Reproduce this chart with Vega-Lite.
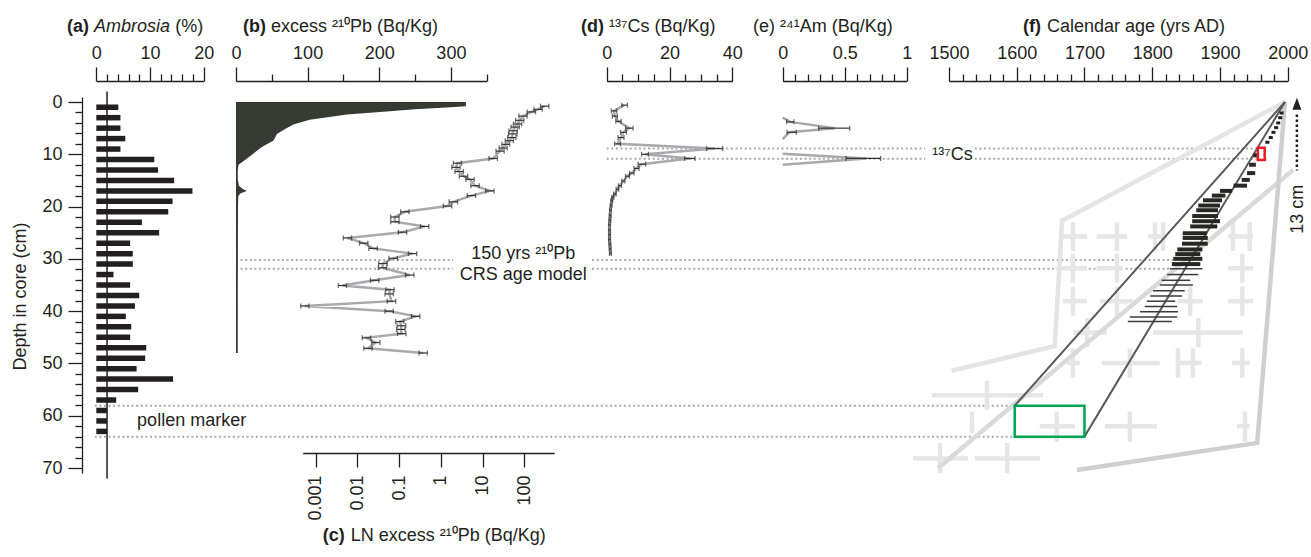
{
"$schema":"https://vega.github.io/schema/vega-lite/v6.json",
"width":1220,"height":376,
"autosize":{"type":"none"},
"padding":{"left":82,"top":97,"right":9,"bottom":84},
"background":"white",
"config":{"view":{"stroke":null},"font":"Liberation Sans",
 "axis":{"grid":false,"domainColor":"#231f20","domainWidth":1.3,"tickColor":"#231f20","tickWidth":1.3,"labelFont":"Liberation Sans","labelFontSize":18,"labelColor":"#231f20","titleFont":"Liberation Sans","titleFontSize":18,"titleFontWeight":"normal","titleColor":"#231f20","labelOverlap":false,"labelFlush":false,"labelBound":false},
 "text":{"font":"Liberation Sans","fontSize":18,"fill":"#231f20"}
},
"datasets":{
 "dots":[{"depth":58.1,"x0":239,"x1":1597},{"depth":64.0,"x0":239,"x1":1597},{"depth":30.2,"x0":973,"x1":1831},{"depth":31.9,"x0":973,"x1":1826},{"depth":8.9,"x0":1538,"x1":1956},{"depth":10.85,"x0":1538,"x1":1969}],
 "lines3032":[{"depth":30.2},{"depth":31.9}],
 "csLines":[{"depth":8.9},{"depth":10.85}],
 "amb":[{"depth":1,"pct":4.1},{"depth":3,"pct":4.5},{"depth":5,"pct":4.5},{"depth":7,"pct":5.4},{"depth":9,"pct":4.5},{"depth":11,"pct":10.8},{"depth":13,"pct":11.5},{"depth":15,"pct":14.5},{"depth":17,"pct":17.9},{"depth":19,"pct":14.2},{"depth":21,"pct":13.4},{"depth":23,"pct":8.5},{"depth":25,"pct":11.7},{"depth":27,"pct":6.3},{"depth":29,"pct":6.8},{"depth":31,"pct":6.8},{"depth":33,"pct":3.2},{"depth":35,"pct":6.3},{"depth":37,"pct":8.0},{"depth":39,"pct":7.2},{"depth":41,"pct":5.5},{"depth":43,"pct":6.5},{"depth":45,"pct":6.3},{"depth":47,"pct":9.3},{"depth":49,"pct":9.1},{"depth":51,"pct":7.5},{"depth":53,"pct":14.3},{"depth":55,"pct":7.8},{"depth":57,"pct":3.7},{"depth":59,"pct":2.0},{"depth":61,"pct":2.0},{"depth":63,"pct":2.0}],
 "pbArea":[{"depth":0,"pb":321},{"depth":0.8,"pb":321},{"depth":1.0,"pb":300},{"depth":1.4,"pb":250},{"depth":1.8,"pb":210},{"depth":2.4,"pb":155},{"depth":3.4,"pb":103},{"depth":4.3,"pb":80},{"depth":5.2,"pb":68},{"depth":6.1,"pb":57},{"depth":7.0,"pb":54},{"depth":7.4,"pb":52},{"depth":8.6,"pb":36},{"depth":9.9,"pb":24},{"depth":11.1,"pb":12.6},{"depth":12.0,"pb":3.5},{"depth":13.0,"pb":2.5},{"depth":14.8,"pb":2.5},{"depth":16.0,"pb":4},{"depth":16.6,"pb":9},{"depth":17.0,"pb":15},{"depth":17.5,"pb":6},{"depth":18.0,"pb":3.2},{"depth":20,"pb":2.8},{"depth":30,"pb":2.6},{"depth":48,"pb":2.4}],
 "pb":[{"depth":0.8,"v":309,"lo":245,"hi":389},{"depth":1.4,"v":214,"lo":170,"hi":270},{"depth":1.9,"v":148,"lo":117,"hi":186},{"depth":2.7,"v":93,"lo":74,"hi":117},{"depth":3.5,"v":78,"lo":62,"hi":98},{"depth":4.2,"v":69,"lo":55,"hi":87},{"depth":4.8,"v":60,"lo":48,"hi":76},{"depth":5.5,"v":54,"lo":43,"hi":68},{"depth":6.1,"v":53,"lo":42,"hi":67},{"depth":6.8,"v":50,"lo":40,"hi":63},{"depth":7.4,"v":44,"lo":35,"hi":55},{"depth":8.1,"v":36,"lo":29,"hi":45},{"depth":8.8,"v":31,"lo":25,"hi":39},{"depth":9.4,"v":26,"lo":21,"hi":33},{"depth":10.8,"v":18,"lo":14.3,"hi":22.7},{"depth":11.7,"v":2.5,"lo":2.0,"hi":3.15},{"depth":12.5,"v":2.3,"lo":1.83,"hi":2.9},{"depth":13.3,"v":2.75,"lo":2.18,"hi":3.47},{"depth":14.2,"v":3.5,"lo":2.78,"hi":4.41},{"depth":14.8,"v":5.0,"lo":3.97,"hi":6.3},{"depth":16.0,"v":6.6,"lo":5.24,"hi":8.32},{"depth":17.0,"v":15,"lo":11.9,"hi":18.9},{"depth":17.9,"v":5.4,"lo":4.29,"hi":6.8},{"depth":19.1,"v":2.0,"lo":1.59,"hi":2.52},{"depth":19.9,"v":1.45,"lo":1.15,"hi":1.83},{"depth":21.0,"v":0.137,"lo":0.109,"hi":0.173},{"depth":22.0,"v":0.079,"lo":0.063,"hi":0.1},{"depth":22.9,"v":0.079,"lo":0.063,"hi":0.1},{"depth":23.8,"v":0.41,"lo":0.325,"hi":0.517},{"depth":24.9,"v":0.121,"lo":0.096,"hi":0.152},{"depth":26.0,"v":0.0058,"lo":0.0046,"hi":0.0073},{"depth":27.0,"v":0.0142,"lo":0.0113,"hi":0.0179},{"depth":28.0,"v":0.0238,"lo":0.0189,"hi":0.030},{"depth":29.0,"v":0.21,"lo":0.167,"hi":0.265},{"depth":29.9,"v":0.072,"lo":0.057,"hi":0.091},{"depth":30.9,"v":0.041,"lo":0.0325,"hi":0.052},{"depth":31.7,"v":0.040,"lo":0.0317,"hi":0.050},{"depth":33.1,"v":0.18,"lo":0.143,"hi":0.227},{"depth":34.1,"v":0.026,"lo":0.0206,"hi":0.0328},{"depth":35.1,"v":0.0044,"lo":0.0035,"hi":0.0055},{"depth":35.9,"v":0.060,"lo":0.048,"hi":0.076},{"depth":36.7,"v":0.058,"lo":0.046,"hi":0.073},{"depth":38.1,"v":0.066,"lo":0.052,"hi":0.083},{"depth":39.0,"v":0.00055,"lo":0.00044,"hi":0.00069},{"depth":40.0,"v":0.058,"lo":0.046,"hi":0.073},{"depth":41.0,"v":0.25,"lo":0.198,"hi":0.315},{"depth":42.0,"v":0.104,"lo":0.083,"hi":0.131},{"depth":42.8,"v":0.114,"lo":0.090,"hi":0.144},{"depth":43.5,"v":0.110,"lo":0.087,"hi":0.139},{"depth":44.3,"v":0.116,"lo":0.092,"hi":0.146},{"depth":45.1,"v":0.0165,"lo":0.0131,"hi":0.0208},{"depth":46.0,"v":0.0276,"lo":0.0219,"hi":0.0348},{"depth":47.1,"v":0.018,"lo":0.0143,"hi":0.0227},{"depth":48.0,"v":0.377,"lo":0.299,"hi":0.475}],
 "cs":[{"depth":0.6,"v":5.5,"lo":4.8,"hi":6.6},{"depth":1.7,"v":2.3,"lo":1.5,"hi":3.2},{"depth":2.7,"v":2.6,"lo":1.8,"hi":3.4},{"depth":3.7,"v":3.7,"lo":2.9,"hi":4.6},{"depth":5.0,"v":7.2,"lo":6.0,"hi":8.4},{"depth":5.8,"v":5.3,"lo":4.4,"hi":6.3},{"depth":6.8,"v":4.5,"lo":3.6,"hi":5.5},{"depth":8.0,"v":3.4,"lo":2.5,"hi":4.4},{"depth":8.9,"v":34.5,"lo":31.8,"hi":36.9},{"depth":10.0,"v":12.2,"lo":11.1,"hi":13.3},{"depth":10.8,"v":26.5,"lo":24.8,"hi":28.1},{"depth":11.9,"v":11.1,"lo":10.0,"hi":12.4},{"depth":12.7,"v":9.5,"lo":8.7,"hi":10.3},{"depth":13.6,"v":8.0,"lo":7.3,"hi":8.7},{"depth":14.2,"v":6.6,"lo":6.0,"hi":7.2},{"depth":15.1,"v":5.3,"lo":4.8,"hi":5.8},{"depth":16.0,"v":4.2,"lo":3.7,"hi":4.7},{"depth":16.7,"v":3.4,"lo":3.0,"hi":3.8},{"depth":17.6,"v":2.6,"lo":2.2,"hi":3.0},{"depth":18.2,"v":1.9,"lo":1.6,"hi":2.3},{"depth":18.9,"v":1.6,"lo":1.3,"hi":1.9},{"depth":19.8,"v":1.4,"lo":1.1,"hi":1.7},{"depth":20.7,"v":1.2,"lo":0.9,"hi":1.5},{"depth":21.7,"v":1.1,"lo":0.8,"hi":1.4},{"depth":22.6,"v":1.0,"lo":0.7,"hi":1.3},{"depth":23.5,"v":0.9,"lo":0.6,"hi":1.2},{"depth":24.5,"v":0.9,"lo":0.6,"hi":1.2},{"depth":25.4,"v":0.9,"lo":0.6,"hi":1.2},{"depth":26.3,"v":0.9,"lo":0.6,"hi":1.2},{"depth":27.2,"v":1.0,"lo":0.7,"hi":1.3},{"depth":28.1,"v":1.1,"lo":0.8,"hi":1.4},{"depth":29.0,"v":1.2,"lo":0.9,"hi":1.5}],
 "am":[{"depth":3.0,"v":0,"seg":1},{"depth":3.8,"v":0.06,"lo":0.032,"hi":0.09,"seg":1},{"depth":5.0,"v":0.42,"lo":0.29,"hi":0.54,"seg":1},{"depth":5.8,"v":0.053,"lo":0.035,"hi":0.11,"seg":1},{"depth":7.1,"v":0,"seg":1},{"depth":9.9,"v":0,"seg":2},{"depth":10.8,"v":0.675,"lo":0.51,"hi":0.79,"seg":2},{"depth":12.0,"v":0,"seg":2}],
 "cross":[
  {"c":1683,"lo":1668,"hi":1704,"depth":25.7,"dlo":23.0,"dhi":28.5},{"c":1748,"lo":1718,"hi":1763,"depth":25.7,"dlo":23.0,"dhi":28.5},{"c":1804,"lo":1794,"hi":1812,"depth":25.7,"dlo":23.0,"dhi":28.5},{"c":1816,"lo":1808,"hi":1822,"depth":25.7,"dlo":23.0,"dhi":28.5},{"c":1919,"lo":1912,"hi":1932,"depth":25.7,"dlo":23.0,"dhi":28.5},{"c":1944,"lo":1930,"hi":1949,"depth":25.7,"dlo":23.0,"dhi":28.5},
  {"c":1683,"lo":1659,"hi":1704,"depth":31.8,"dlo":29.0,"dhi":34.6},{"c":1748,"lo":1718,"hi":1757,"depth":31.8,"dlo":29.0,"dhi":34.6},{"c":1933,"lo":1912,"hi":1949,"depth":31.8,"dlo":29.0,"dhi":34.6},
  {"c":1683,"lo":1668,"hi":1704,"depth":38.1,"dlo":35.3,"dhi":40.9},{"c":1748,"lo":1723,"hi":1772,"depth":38.1,"dlo":35.3,"dhi":40.9},{"c":1856,"lo":1837,"hi":1875,"depth":38.1,"dlo":35.3,"dhi":40.9},{"c":1933,"lo":1912,"hi":1949,"depth":38.1,"dlo":35.3,"dhi":40.9},
  {"c":1704,"lo":1683,"hi":1733,"depth":44.1,"dlo":41.3,"dhi":46.9},{"c":1868,"lo":1801,"hi":1934,"depth":44.1,"dlo":41.3,"dhi":46.9},
  {"c":1683,"lo":1674,"hi":1693,"depth":49.9,"dlo":47.1,"dhi":52.7},{"c":1767,"lo":1726,"hi":1811,"depth":49.9,"dlo":47.1,"dhi":52.7},{"c":1838,"lo":1836,"hi":1850,"depth":49.9,"dlo":47.1,"dhi":52.7},{"c":1860,"lo":1850,"hi":1873,"depth":49.9,"dlo":47.1,"dhi":52.7},{"c":1933,"lo":1918,"hi":1944,"depth":49.9,"dlo":47.1,"dhi":52.7},
  {"c":1556,"lo":1475,"hi":1639,"depth":56.1,"dlo":53.3,"dhi":58.9},
  {"c":1659,"lo":1634,"hi":1686,"depth":62.0,"dlo":59.2,"dhi":65.0},{"c":1767,"lo":1730,"hi":1807,"depth":62.0,"dlo":59.2,"dhi":65.0},{"c":1937,"lo":1925,"hi":1944,"depth":62.0,"dlo":59.2,"dhi":65.0},{"c":1534,"lo":1531,"hi":1537,"depth":62.0,"dlo":59.2,"dhi":63.3},
  {"c":1487,"lo":1447,"hi":1528,"depth":68.2,"dlo":65.2,"dhi":71.0},{"c":1586,"lo":1538,"hi":1634,"depth":68.2,"dlo":65.2,"dhi":71.0}],
 "env":[{"id":"p1","k":0,"year":1996,"depth":0},{"id":"p1","k":1,"year":1667,"depth":22.7},{"id":"p1","k":2,"year":1656,"depth":46.7},{"id":"p1","k":3,"year":1504,"depth":51.4},{"id":"p2","k":0,"year":2008,"depth":13.0},{"id":"p2","k":1,"year":1484,"depth":70.0},{"id":"p3","k":0,"year":1996,"depth":0},{"id":"p3","k":1,"year":1955,"depth":65.2},{"id":"p3","k":2,"year":1689,"depth":70.4}],
 "model":[{"id":"m1","k":0,"year":1996,"depth":0},{"id":"m1","k":1,"year":1597,"depth":58.1},{"id":"m2","k":0,"year":1996,"depth":0},{"id":"m2","k":1,"year":1700,"depth":64.0}],
 "boxes":[{"kind":"pollen","x0":1597,"x1":1700,"depth":58.1,"d1":64.0},{"kind":"cs","x0":1956,"x1":1966,"depth":8.75,"d1":11.1}],
 "crs":[{"depth":2.1,"lo":1988,"hi":1994,"kind":"dot"},{"depth":3.0,"lo":1986,"hi":1992,"kind":"dot"},{"depth":4.0,"lo":1983,"hi":1989,"kind":"dot"},{"depth":4.9,"lo":1980,"hi":1986,"kind":"dot"},{"depth":5.8,"lo":1976,"hi":1982,"kind":"dot"},{"depth":6.8,"lo":1972,"hi":1978,"kind":"dot"},{"depth":7.7,"lo":1967,"hi":1973,"kind":"dot"},
  {"depth":10.2,"lo":1949,"hi":1962,"kind":"dark"},{"depth":12.0,"lo":1943,"hi":1953,"kind":"dark"},{"depth":13.6,"lo":1940,"hi":1952,"kind":"dark"},{"depth":14.9,"lo":1932,"hi":1944,"kind":"dark"},{"depth":16.0,"lo":1920,"hi":1940,"kind":"dark"},{"depth":17.0,"lo":1900,"hi":1918,"kind":"dark"},{"depth":17.9,"lo":1888,"hi":1908,"kind":"dark"},{"depth":18.8,"lo":1875,"hi":1903,"kind":"dark"},{"depth":19.8,"lo":1868,"hi":1900,"kind":"dark"},{"depth":20.7,"lo":1865,"hi":1897,"kind":"dark"},{"depth":21.8,"lo":1859,"hi":1897,"kind":"dark"},{"depth":22.8,"lo":1859,"hi":1900,"kind":"dark"},{"depth":23.8,"lo":1856,"hi":1896,"kind":"dark"},{"depth":25.1,"lo":1845,"hi":1881,"kind":"dark"},{"depth":26.0,"lo":1845,"hi":1882,"kind":"dark"},{"depth":27.1,"lo":1844,"hi":1882,"kind":"dark"},{"depth":28.2,"lo":1837,"hi":1874,"kind":"dark"},{"depth":29.1,"lo":1834,"hi":1871,"kind":"dark"},{"depth":30.0,"lo":1831,"hi":1874,"kind":"dark"},{"depth":31.0,"lo":1829,"hi":1871,"kind":"dark"},
  {"depth":31.9,"lo":1826,"hi":1874,"kind":"thin"},{"depth":33.0,"lo":1822,"hi":1868,"kind":"thin"},{"depth":34.1,"lo":1814,"hi":1856,"kind":"thin"},{"depth":35.0,"lo":1811,"hi":1860,"kind":"thin"},{"depth":36.1,"lo":1801,"hi":1848,"kind":"thin"},{"depth":37.1,"lo":1797,"hi":1844,"kind":"thin"},{"depth":38.1,"lo":1792,"hi":1834,"kind":"thin"},{"depth":39.1,"lo":1789,"hi":1837,"kind":"thin"},{"depth":40.1,"lo":1782,"hi":1838,"kind":"thin"},{"depth":41.1,"lo":1767,"hi":1837,"kind":"thin"},{"depth":42.0,"lo":1764,"hi":1829,"kind":"thin"}]
},
"layer":[
 {"data":{"name":"dots"},"mark":{"type":"rule","stroke":"#a7a9ac","strokeWidth":2,"strokeDash":[2,2.6]},
  "encoding":{"x":{"field":"x0","type":"quantitative","scale":{"domain":[1500,2000],"range":[867,1205.7],"nice":false,"zero":false},"axis":null},"x2":{"field":"x1"},
   "y":{"field":"depth","type":"quantitative","scale":{"domain":[0,70],"nice":false,"zero":false,"reverse":true},
    "axis":{"orient":"left","values":[2,4,6,8,12,14,16,18,22,24,26,28,32,34,36,38,42,44,46,48,52,54,56,58,62,64,66,68],"tickSize":7,"labels":false,"domain":false,"title":null}}}},
 {"data":{"name":"lines3032"},"mark":{"type":"rule","stroke":"#a7a9ac","strokeWidth":2,"strokeDash":[2,2.6]},
  "encoding":{"x":{"datum":0,"type":"quantitative","scale":{"domain":[0,350],"range":[154,404.7],"nice":false,"zero":false},"axis":{"orient":"top","offset":16,"values":[50,150,250,350],"tickSize":7,"labels":false,"domain":false,"title":null}},"x2":{"datum":303},
   "y":{"field":"depth","type":"quantitative","scale":{"domain":[0,70],"nice":false,"zero":false,"reverse":true},"axis":null}}},
 {"data":{"name":"csLines"},"mark":{"type":"rule","stroke":"#a7a9ac","strokeWidth":2,"strokeDash":[2,2.6]},
  "encoding":{"x":{"datum":0,"type":"quantitative","scale":{"domain":[0,40],"range":[524.7,650.3],"nice":false,"zero":false},"axis":{"orient":"top","offset":16,"values":[5,10,15,25,30,35],"tickSize":7,"labels":false,"domain":false,"title":null}},"x2":{"datum":101.4},
   "y":{"field":"depth","type":"quantitative","scale":{"domain":[0,70],"nice":false,"zero":false,"reverse":true},"axis":null}}},
 {"data":{"name":"amb"},"mark":{"type":"bar","orient":"horizontal","height":5.5,"color":"#231f20"},
  "encoding":{"x":{"field":"pct","type":"quantitative","scale":{"domain":[0,20],"range":[14.3,121.7],"nice":false,"zero":false},"axis":{"orient":"top","offset":16,"values":[0,10,20],"tickSize":14,"labelPadding":5,"title":null}},
   "y":{"field":"depth","type":"quantitative","scale":{"domain":[0,70],"nice":false,"zero":false,"reverse":true},
    "axis":{"orient":"left","values":[0,10,20,30,40,50,60,70],"tickSize":14,"labelPadding":6,"title":"Depth in core (cm)","titlePadding":12,"titleY":199}}}},
 {"data":{"values":[{}]},"mark":{"type":"rule","color":"#231f20","strokeWidth":1.5},
  "encoding":{"x":{"datum":2,"type":"quantitative","scale":{"domain":[0,20],"range":[14.3,121.7],"nice":false,"zero":false},"axis":{"orient":"top","offset":16,"values":[2,4,6,8,12,14,16,18],"tickSize":7,"labels":false,"domain":false,"title":null}},
   "y":{"datum":-2,"type":"quantitative","scale":{"domain":[0,70],"nice":false,"zero":false,"reverse":true},"axis":null},"y2":{"datum":72}}},
 {"data":{"name":"pbArea"},"mark":{"type":"area","orient":"horizontal","color":"#353a33"},
  "encoding":{"x":{"field":"pb","type":"quantitative","scale":{"domain":[0,350],"range":[154,404.7],"nice":false,"zero":false},"axis":{"orient":"top","offset":16,"values":[0,100,200,300],"tickSize":14,"labelPadding":5,"title":null}},
   "y":{"field":"depth","type":"quantitative","scale":{"domain":[0,70],"nice":false,"zero":false,"reverse":true},"axis":null}}},
 {"data":{"name":"pb"},"mark":{"type":"line","color":"#a7a9ac","strokeWidth":2.5},
  "encoding":{"x":{"field":"v","type":"quantitative","scale":{"type":"log","domain":[0.00049,516],"range":[220.7,472],"nice":false},"axis":{"orient":"bottom","offset":-20,"values":[0.001,0.01,0.1,1,10,100],"format":"~g","labelAngle":-90,"tickSize":14,"labelPadding":8,"title":null}},
   "y":{"field":"depth","type":"quantitative","scale":{"domain":[0,70],"nice":false,"zero":false,"reverse":true},"axis":null},"order":{"field":"depth"}}},
 {"data":{"name":"pb"},"mark":{"type":"rule","color":"#333333","strokeWidth":1.2},
  "encoding":{"x":{"field":"lo","type":"quantitative","scale":{"type":"log","domain":[0.00049,516],"range":[220.7,472],"nice":false},"axis":null},"x2":{"field":"hi"},
   "y":{"field":"depth","type":"quantitative","scale":{"domain":[0,70],"nice":false,"zero":false,"reverse":true},"axis":null}}},
 {"data":{"name":"pb"},"mark":{"type":"tick","orient":"vertical","color":"#333333","size":5,"thickness":1.3},
  "encoding":{"x":{"field":"lo","type":"quantitative","scale":{"type":"log","domain":[0.00049,516],"range":[220.7,472],"nice":false},"axis":null},
   "y":{"field":"depth","type":"quantitative","scale":{"domain":[0,70],"nice":false,"zero":false,"reverse":true},"axis":null}}},
 {"data":{"name":"pb"},"mark":{"type":"tick","orient":"vertical","color":"#333333","size":5,"thickness":1.3},
  "encoding":{"x":{"field":"hi","type":"quantitative","scale":{"type":"log","domain":[0.00049,516],"range":[220.7,472],"nice":false},"axis":null},
   "y":{"field":"depth","type":"quantitative","scale":{"domain":[0,70],"nice":false,"zero":false,"reverse":true},"axis":null}}},
 {"data":{"name":"cs"},"mark":{"type":"line","color":"#a7a9ac","strokeWidth":2.5},
  "encoding":{"x":{"field":"v","type":"quantitative","scale":{"domain":[0,40],"range":[524.7,650.3],"nice":false,"zero":false},"axis":{"orient":"top","offset":16,"values":[0,20,40],"tickSize":14,"labelPadding":5,"title":null}},
   "y":{"field":"depth","type":"quantitative","scale":{"domain":[0,70],"nice":false,"zero":false,"reverse":true},"axis":null},"order":{"field":"depth"}}},
 {"data":{"name":"cs"},"mark":{"type":"rule","color":"#333333","strokeWidth":1.2},
  "encoding":{"x":{"field":"lo","type":"quantitative","scale":{"domain":[0,40],"range":[524.7,650.3],"nice":false,"zero":false},"axis":null},"x2":{"field":"hi"},
   "y":{"field":"depth","type":"quantitative","scale":{"domain":[0,70],"nice":false,"zero":false,"reverse":true},"axis":null}}},
 {"data":{"name":"cs"},"mark":{"type":"tick","orient":"vertical","color":"#333333","size":5,"thickness":1.3},
  "encoding":{"x":{"field":"lo","type":"quantitative","scale":{"domain":[0,40],"range":[524.7,650.3],"nice":false,"zero":false},"axis":null},
   "y":{"field":"depth","type":"quantitative","scale":{"domain":[0,70],"nice":false,"zero":false,"reverse":true},"axis":null}}},
 {"data":{"name":"cs"},"mark":{"type":"tick","orient":"vertical","color":"#333333","size":5,"thickness":1.3},
  "encoding":{"x":{"field":"hi","type":"quantitative","scale":{"domain":[0,40],"range":[524.7,650.3],"nice":false,"zero":false},"axis":null},
   "y":{"field":"depth","type":"quantitative","scale":{"domain":[0,70],"nice":false,"zero":false,"reverse":true},"axis":null}}},
 {"data":{"name":"am"},"mark":{"type":"line","color":"#a7a9ac","strokeWidth":2.5},
  "encoding":{"x":{"field":"v","type":"quantitative","scale":{"domain":[0,1],"range":[700.7,824.7],"nice":false,"zero":false},"axis":{"orient":"top","offset":16,"values":[0,0.5,1],"format":"~g","tickSize":14,"labelPadding":5,"title":null}},
   "y":{"field":"depth","type":"quantitative","scale":{"domain":[0,70],"nice":false,"zero":false,"reverse":true},"axis":null},"detail":{"field":"seg"},"order":{"field":"depth"}}},
 {"data":{"name":"am"},"mark":{"type":"rule","color":"#333333","strokeWidth":1.2},
  "encoding":{"x":{"field":"lo","type":"quantitative","scale":{"domain":[0,1],"range":[700.7,824.7],"nice":false,"zero":false},"axis":{"orient":"top","offset":16,"values":[0.1,0.2,0.3,0.4,0.6,0.7,0.8,0.9],"tickSize":7,"labels":false,"domain":false,"title":null}},"x2":{"field":"hi"},
   "y":{"field":"depth","type":"quantitative","scale":{"domain":[0,70],"nice":false,"zero":false,"reverse":true},"axis":null}}},
 {"data":{"name":"am"},"mark":{"type":"tick","orient":"vertical","color":"#333333","size":5,"thickness":1.3},
  "encoding":{"x":{"field":"lo","type":"quantitative","scale":{"domain":[0,1],"range":[700.7,824.7],"nice":false,"zero":false},"axis":null},
   "y":{"field":"depth","type":"quantitative","scale":{"domain":[0,70],"nice":false,"zero":false,"reverse":true},"axis":null}}},
 {"data":{"name":"am"},"mark":{"type":"tick","orient":"vertical","color":"#333333","size":5,"thickness":1.3},
  "encoding":{"x":{"field":"hi","type":"quantitative","scale":{"domain":[0,1],"range":[700.7,824.7],"nice":false,"zero":false},"axis":null},
   "y":{"field":"depth","type":"quantitative","scale":{"domain":[0,70],"nice":false,"zero":false,"reverse":true},"axis":null}}},
 {"data":{"name":"cross"},"mark":{"type":"rule","color":"#e6e6e6","strokeWidth":4.5},
  "encoding":{"x":{"field":"lo","type":"quantitative","scale":{"domain":[1500,2000],"range":[867,1205.7],"nice":false,"zero":false},"axis":{"orient":"top","offset":16,"values":[1500,1600,1700,1800,1900,2000],"format":"d","tickSize":14,"labelPadding":5,"title":null}},"x2":{"field":"hi"},
   "y":{"field":"depth","type":"quantitative","scale":{"domain":[0,70],"nice":false,"zero":false,"reverse":true},"axis":null}}},
 {"data":{"name":"cross"},"mark":{"type":"rule","color":"#e6e6e6","strokeWidth":4.5},
  "encoding":{"x":{"field":"c","type":"quantitative","scale":{"domain":[1500,2000],"range":[867,1205.7],"nice":false,"zero":false},"axis":{"orient":"top","offset":16,"values":[1520,1540,1560,1580,1620,1640,1660,1680,1720,1740,1760,1780,1820,1840,1860,1880,1920,1940,1960,1980],"tickSize":7,"labels":false,"domain":false,"title":null}},
   "y":{"field":"dlo","type":"quantitative","scale":{"domain":[0,70],"nice":false,"zero":false,"reverse":true},"axis":null},"y2":{"field":"dhi"}}},
 {"data":{"name":"env"},"mark":{"type":"line","strokeWidth":4.5},
  "encoding":{"x":{"field":"year","type":"quantitative","scale":{"domain":[1500,2000],"range":[867,1205.7],"nice":false,"zero":false},"axis":null},
   "y":{"field":"depth","type":"quantitative","scale":{"domain":[0,70],"nice":false,"zero":false,"reverse":true},"axis":null},
   "color":{"field":"id","type":"nominal","scale":{"domain":["p1","p2","p3"],"range":["#e4e4e4","#d9d9d9","#cfcfd1"]},"legend":null},"order":{"field":"k"}}},
 {"data":{"name":"model"},"mark":{"type":"line","strokeWidth":2,"color":"#5a5a5a"},
  "encoding":{"x":{"field":"year","type":"quantitative","scale":{"domain":[1500,2000],"range":[867,1205.7],"nice":false,"zero":false},"axis":null},
   "y":{"field":"depth","type":"quantitative","scale":{"domain":[0,70],"nice":false,"zero":false,"reverse":true},"axis":null},"detail":{"field":"id"},"order":{"field":"k"}}},
 {"data":{"name":"crs"},"transform":[{"filter":"datum.kind === 'thin'"}],"mark":{"type":"rule","color":"#3a3a3a","strokeWidth":1.5},
  "encoding":{"x":{"field":"lo","type":"quantitative","scale":{"domain":[1500,2000],"range":[867,1205.7],"nice":false,"zero":false},"axis":null},"x2":{"field":"hi"},
   "y":{"field":"depth","type":"quantitative","scale":{"domain":[0,70],"nice":false,"zero":false,"reverse":true},"axis":null}}},
 {"data":{"name":"crs"},"transform":[{"filter":"datum.kind === 'dark'"}],"mark":{"type":"rule","color":"#262824","strokeWidth":4},
  "encoding":{"x":{"field":"lo","type":"quantitative","scale":{"domain":[1500,2000],"range":[867,1205.7],"nice":false,"zero":false},"axis":null},"x2":{"field":"hi"},
   "y":{"field":"depth","type":"quantitative","scale":{"domain":[0,70],"nice":false,"zero":false,"reverse":true},"axis":null}}},
 {"data":{"name":"crs"},"transform":[{"filter":"datum.kind === 'dot'"}],"mark":{"type":"rule","color":"#231f20","strokeWidth":3},
  "encoding":{"x":{"field":"lo","type":"quantitative","scale":{"domain":[1500,2000],"range":[867,1205.7],"nice":false,"zero":false},"axis":null},"x2":{"field":"hi"},
   "y":{"field":"depth","type":"quantitative","scale":{"domain":[0,70],"nice":false,"zero":false,"reverse":true},"axis":null}}},
 {"data":{"name":"boxes"},"mark":{"type":"rect","strokeWidth":2.5},
  "encoding":{"x":{"field":"x0","type":"quantitative","scale":{"domain":[1500,2000],"range":[867,1205.7],"nice":false,"zero":false},"axis":null},"x2":{"field":"x1"},
   "y":{"field":"depth","type":"quantitative","scale":{"domain":[0,70],"nice":false,"zero":false,"reverse":true},"axis":null},"y2":{"field":"d1"},
   "stroke":{"field":"kind","type":"nominal","scale":{"domain":["pollen","cs"],"range":["#00a651","#ed1c24"]},"legend":null},
   "fillOpacity":{"field":"kind","type":"nominal","scale":{"domain":["pollen","cs"],"range":[0,1]},"legend":null},
   "fill":{"value":"white"}}},
 {"data":{"values":[{}]},"mark":{"type":"rule","color":"#231f20","strokeWidth":2.5,"strokeDash":[2.5,2.5]},
  "encoding":{"x":{"datum":2013.6,"type":"quantitative","scale":{"domain":[1500,2000],"range":[867,1205.7],"nice":false,"zero":false},"axis":null},
   "y":{"datum":2.4,"type":"quantitative","scale":{"domain":[0,70],"nice":false,"zero":false,"reverse":true},"axis":null},"y2":{"datum":13.1}}},
 {"data":{"values":[{}]},"mark":{"type":"point","filled":true,"color":"#231f20","opacity":1,"size":144,"shape":"M0,-1L0.75,1L-0.75,1Z"},
  "encoding":{"x":{"datum":2013.6,"type":"quantitative","scale":{"domain":[1500,2000],"range":[867,1205.7],"nice":false,"zero":false},"axis":null},
   "y":{"datum":0.35,"type":"quantitative","scale":{"domain":[0,70],"nice":false,"zero":false,"reverse":true},"axis":null}}},
 {"data":{"values":[{}]},"mark":{"type":"text","angle":270,"align":"center","baseline":"middle","fontSize":18},
  "encoding":{"x":{"datum":2015.2,"type":"quantitative","scale":{"domain":[1500,2000],"range":[867,1205.7],"nice":false,"zero":false},"axis":null},
   "y":{"datum":20.5,"type":"quantitative","scale":{"domain":[0,70],"nice":false,"zero":false,"reverse":true},"axis":null},"text":{"value":"13 cm"}}},
 {"data":{"values":[{}]},"mark":{"type":"text","align":"right","baseline":"middle","fontSize":18},
  "encoding":{"x":{"datum":1535,"type":"quantitative","scale":{"domain":[1500,2000],"range":[867,1205.7],"nice":false,"zero":false},"axis":null},
   "y":{"datum":10.2,"type":"quantitative","scale":{"domain":[0,70],"nice":false,"zero":false,"reverse":true},"axis":null},"text":{"value":"¹³⁷Cs"}}},
 {"data":{"values":[{}]},"mark":{"type":"text","align":"left","baseline":"middle","fontSize":18},
  "encoding":{"x":{"datum":7.6,"type":"quantitative","scale":{"domain":[0,20],"range":[14.3,121.7],"nice":false,"zero":false},"axis":null},
   "y":{"datum":61.1,"type":"quantitative","scale":{"domain":[0,70],"nice":false,"zero":false,"reverse":true},"axis":null},"text":{"value":"pollen marker"}}},
 {"data":{"values":[{"t":"150 yrs ²¹⁰Pb","depth":29.05},{"t":"CRS age model","depth":33.0}]},"mark":{"type":"text","align":"center","baseline":"middle","fontSize":18},
  "encoding":{"x":{"datum":95,"type":"quantitative","scale":{"type":"log","domain":[0.00049,516],"range":[220.7,472],"nice":false},"axis":null},
   "y":{"field":"depth","type":"quantitative","scale":{"domain":[0,70],"nice":false,"zero":false,"reverse":true},"axis":null},"text":{"field":"t"}}},
 {"data":{"values":[{}]},"mark":{"type":"text","align":"left","baseline":"alphabetic","fontSize":18,"fontWeight":"bold"},
  "encoding":{"x":{"datum":-5.46,"type":"quantitative","scale":{"domain":[0,20],"range":[14.3,121.7],"nice":false,"zero":false},"axis":null},
   "y":{"datum":-13.4,"type":"quantitative","scale":{"domain":[0,70],"nice":false,"zero":false,"reverse":true},"axis":null},"text":{"value":"(a)"}}},
 {"data":{"values":[{}]},"mark":{"type":"text","align":"left","baseline":"alphabetic","fontSize":18,"fontStyle":"italic"},
  "encoding":{"x":{"datum":-0.43,"type":"quantitative","scale":{"domain":[0,20],"range":[14.3,121.7],"nice":false,"zero":false},"axis":null},
   "y":{"datum":-13.4,"type":"quantitative","scale":{"domain":[0,70],"nice":false,"zero":false,"reverse":true},"axis":null},"text":{"value":"Ambrosia"}}},
 {"data":{"values":[{}]},"mark":{"type":"text","align":"left","baseline":"alphabetic","fontSize":18},
  "encoding":{"x":{"datum":14.7,"type":"quantitative","scale":{"domain":[0,20],"range":[14.3,121.7],"nice":false,"zero":false},"axis":null},
   "y":{"datum":-13.4,"type":"quantitative","scale":{"domain":[0,70],"nice":false,"zero":false,"reverse":true},"axis":null},"text":{"value":"(%)"}}},
 {"data":{"values":[{}]},"mark":{"type":"text","align":"left","baseline":"alphabetic","fontSize":18,"fontWeight":"bold"},
  "encoding":{"x":{"datum":9.8,"type":"quantitative","scale":{"domain":[0,350],"range":[154,404.7],"nice":false,"zero":false},"axis":null},
   "y":{"datum":-13.4,"type":"quantitative","scale":{"domain":[0,70],"nice":false,"zero":false,"reverse":true},"axis":null},"text":{"value":"(b)"}}},
 {"data":{"values":[{}]},"mark":{"type":"text","align":"left","baseline":"alphabetic","fontSize":18},
  "encoding":{"x":{"datum":48.9,"type":"quantitative","scale":{"domain":[0,350],"range":[154,404.7],"nice":false,"zero":false},"axis":null},
   "y":{"datum":-13.4,"type":"quantitative","scale":{"domain":[0,70],"nice":false,"zero":false,"reverse":true},"axis":null},"text":{"value":"excess ²¹⁰Pb (Bq/Kg)"}}},
 {"data":{"values":[{}]},"mark":{"type":"text","align":"left","baseline":"alphabetic","fontSize":18,"fontWeight":"bold"},
  "encoding":{"x":{"datum":0.00148,"type":"quantitative","scale":{"type":"log","domain":[0.00049,516],"range":[220.7,472],"nice":false},"axis":null},
   "y":{"datum":84.0,"type":"quantitative","scale":{"domain":[0,70],"nice":false,"zero":false,"reverse":true},"axis":null},"text":{"value":"(c)"}}},
 {"data":{"values":[{}]},"mark":{"type":"text","align":"left","baseline":"alphabetic","fontSize":18},
  "encoding":{"x":{"datum":0.00695,"type":"quantitative","scale":{"type":"log","domain":[0.00049,516],"range":[220.7,472],"nice":false},"axis":null},
   "y":{"datum":84.0,"type":"quantitative","scale":{"domain":[0,70],"nice":false,"zero":false,"reverse":true},"axis":null},"text":{"value":"LN excess ²¹⁰Pb (Bq/Kg)"}}},
 {"data":{"values":[{}]},"mark":{"type":"text","align":"left","baseline":"alphabetic","fontSize":18,"fontWeight":"bold"},
  "encoding":{"x":{"datum":-8.2,"type":"quantitative","scale":{"domain":[0,40],"range":[524.7,650.3],"nice":false,"zero":false},"axis":null},
   "y":{"datum":-13.4,"type":"quantitative","scale":{"domain":[0,70],"nice":false,"zero":false,"reverse":true},"axis":null},"text":{"value":"(d)"}}},
 {"data":{"values":[{}]},"mark":{"type":"text","align":"left","baseline":"alphabetic","fontSize":18},
  "encoding":{"x":{"datum":0.73,"type":"quantitative","scale":{"domain":[0,40],"range":[524.7,650.3],"nice":false,"zero":false},"axis":null},
   "y":{"datum":-13.4,"type":"quantitative","scale":{"domain":[0,70],"nice":false,"zero":false,"reverse":true},"axis":null},"text":{"value":"¹³⁷Cs (Bq/Kg)"}}},
 {"data":{"values":[{}]},"mark":{"type":"text","align":"left","baseline":"alphabetic","fontSize":18},
  "encoding":{"x":{"datum":-0.24,"type":"quantitative","scale":{"domain":[0,1],"range":[700.7,824.7],"nice":false,"zero":false},"axis":null},
   "y":{"datum":-13.4,"type":"quantitative","scale":{"domain":[0,70],"nice":false,"zero":false,"reverse":true},"axis":null},"text":{"value":"(e) ²⁴¹Am (Bq/Kg)"}}},
 {"data":{"values":[{}]},"mark":{"type":"text","align":"left","baseline":"alphabetic","fontSize":18,"fontWeight":"bold"},
  "encoding":{"x":{"datum":1609.2,"type":"quantitative","scale":{"domain":[1500,2000],"range":[867,1205.7],"nice":false,"zero":false},"axis":null},
   "y":{"datum":-13.4,"type":"quantitative","scale":{"domain":[0,70],"nice":false,"zero":false,"reverse":true},"axis":null},"text":{"value":"(f)"}}},
 {"data":{"values":[{}]},"mark":{"type":"text","align":"left","baseline":"alphabetic","fontSize":18},
  "encoding":{"x":{"datum":1644.7,"type":"quantitative","scale":{"domain":[1500,2000],"range":[867,1205.7],"nice":false,"zero":false},"axis":null},
   "y":{"datum":-13.4,"type":"quantitative","scale":{"domain":[0,70],"nice":false,"zero":false,"reverse":true},"axis":null},"text":{"value":"Calendar age (yrs AD)"}}}
],
"resolve":{"scale":{"x":"independent","color":"independent","strokeWidth":"independent","stroke":"independent","fillOpacity":"independent"},"axis":{"x":"independent","y":"independent"}}
}
